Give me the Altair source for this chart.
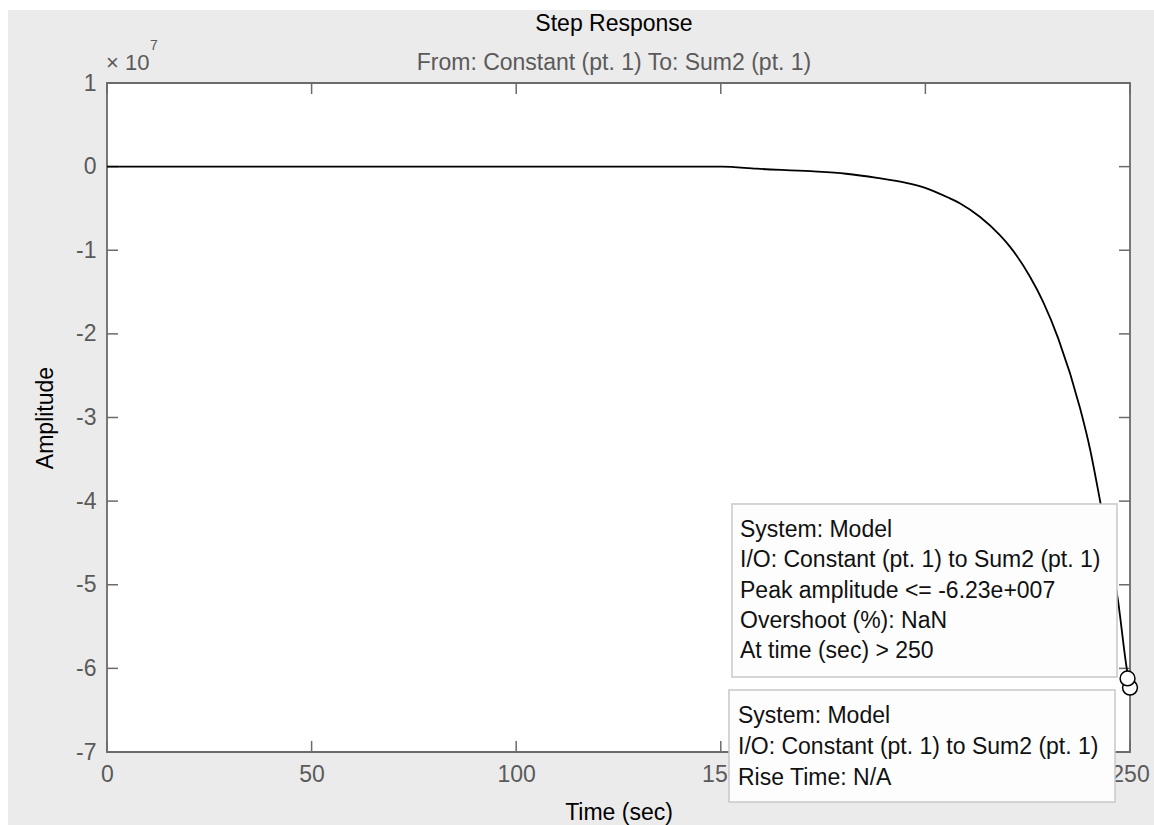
import altair as alt
import pandas as pd

# ---- data (amplitude in units of 1e7) ----
time_s = [0, 150.3, 158.8, 172.0, 180.6, 188.2, 195.3, 200.6, 206.0, 208.5, 213.3, 218.2,
          220.7, 225.6, 228.8, 232.5, 237.8, 240.2, 242.7, 247.1, 249.2, 250]
amplitude_e7 = [0, 0, -0.025, -0.055, -0.085, -0.135, -0.195, -0.265, -0.38, -0.44, -0.60, -0.82,
                -0.96, -1.32, -1.62, -2.06, -2.89, -3.37, -4.0, -5.2, -6.0, -6.23]

marker_t = [250, 249.4]
marker_a = [-6.23, -6.12]

x_ticks = [0, 50, 100, 150, 200, 250]
y_ticks = [-7, -6, -5, -4, -3, -2, -1, 0, 1]

title_text = "Step Response"
subtitle_text = "From: Constant (pt. 1)  To: Sum2 (pt. 1)"
tip1_lines = ["System: Model", "I/O: Constant (pt. 1) to Sum2 (pt. 1)",
              "Peak amplitude <= -6.23e+007", "Overshoot (%): NaN", "At time (sec) > 250"]
tip2_lines = ["System: Model", "I/O: Constant (pt. 1) to Sum2 (pt. 1)", "Rise Time: N/A"]

# ---- styling ----
W, H = 1023, 669
FONT = "Liberation Sans"
AX = "#6b6b6b"
LBL = "#5a5a5a"
BG = "#EBEBEB"
TK = 11

xscale = alt.Scale(domain=[0, 250], nice=False, zero=False)
yscale = alt.Scale(domain=[-7, 1], nice=False, zero=False)

x_axis = alt.Axis(values=x_ticks, title="Time (sec)", ticks=False, tickSize=0, domain=False,
                  grid=False, labelPadding=11, labelFontSize=23, labelColor=LBL,
                  labelExpr="'' + datum.value",
                  titleFontSize=23, titleFontWeight="normal", titleColor="black",
                  titlePadding=15, labelFlush=False)
y_axis = alt.Axis(values=y_ticks, title="Amplitude", ticks=False, tickSize=0, domain=False,
                  grid=False, labelPadding=11, labelFontSize=23, labelColor=LBL,
                  labelExpr="'' + datum.value",
                  titleFontSize=23, titleFontWeight="normal", titleColor="black",
                  titlePadding=18, labelFlush=False)

one = pd.DataFrame({"k": [0]})
curve = pd.DataFrame({"t": time_s, "a": amplitude_e7})
xt = pd.DataFrame({"t": x_ticks})
yt = pd.DataFrame({"a": y_ticks})
markers = pd.DataFrame({"t": marker_t, "a": marker_a})

X = lambda: alt.X("t:Q", scale=xscale, axis=x_axis)
Y = lambda: alt.Y("a:Q", scale=yscale, axis=y_axis)

layers = []

# white strips outside the grey figure area
layers.append(alt.Chart(one).mark_rect(color="white").encode(
    x=alt.value(-107), x2=alt.value(-99), y=alt.value(-83), y2=alt.value(742)))
layers.append(alt.Chart(one).mark_rect(color="white").encode(
    x=alt.value(-107), x2=alt.value(1047), y=alt.value(-83), y2=alt.value(-73)))

# white plot area with grey frame
layers.append(alt.Chart(one).mark_rect(fill="white", stroke=AX, strokeWidth=1.8).encode(
    x=alt.value(0), x2=alt.value(W), y=alt.value(0), y2=alt.value(H)))

# tick marks (inward, on all four sides)
layers.append(alt.Chart(xt).mark_rule(color=AX, strokeWidth=1.5).encode(
    x=X(), y=alt.value(H), y2=alt.value(H - TK)))
layers.append(alt.Chart(xt).mark_rule(color=AX, strokeWidth=1.5).encode(
    x=X(), y=alt.value(0), y2=alt.value(TK)))
layers.append(alt.Chart(yt).mark_rule(color=AX, strokeWidth=1.5).encode(
    y=Y(), x=alt.value(0), x2=alt.value(TK)))
layers.append(alt.Chart(yt).mark_rule(color=AX, strokeWidth=1.5).encode(
    y=Y(), x=alt.value(W - TK), x2=alt.value(W)))

# step response curve
layers.append(alt.Chart(curve).mark_line(color="black", strokeWidth=1.8,
                                         interpolate="monotone").encode(
    x=X(), y=Y(), order="t:Q"))

# data-tip markers
layers.append(alt.Chart(markers).mark_point(shape="circle", size=220, fill="white",
                                            stroke="black", strokeWidth=1.5, opacity=1,
                                            fillOpacity=1).encode(x=X(), y=Y()))

# data-tip boxes
layers.append(alt.Chart(one).mark_rect(fill="#FDFDFD", stroke="#C8C8C8", strokeWidth=1.5).encode(
    x=alt.value(625), x2=alt.value(1010), y=alt.value(421), y2=alt.value(594)))
layers.append(alt.Chart(one).mark_rect(fill="#FDFDFD", stroke="#C8C8C8", strokeWidth=1.5).encode(
    x=alt.value(622), x2=alt.value(1008), y=alt.value(607), y2=alt.value(719)))

for i, line in enumerate(tip1_lines):
    layers.append(alt.Chart(one).mark_text(align="left", baseline="alphabetic", fontSize=23,
                                           font=FONT, color="#111111").encode(
        x=alt.value(633), y=alt.value(454 + 30.3 * i), text=alt.value(line)))
for i, line in enumerate(tip2_lines):
    layers.append(alt.Chart(one).mark_text(align="left", baseline="alphabetic", fontSize=23,
                                           font=FONT, color="#111111").encode(
        x=alt.value(631), y=alt.value(640 + 31 * i), text=alt.value(line)))

# titles
layers.append(alt.Chart(one).mark_text(align="center", baseline="alphabetic", fontSize=23,
                                       font=FONT, color="black").encode(
    x=alt.value(507), y=alt.value(-52), text=alt.value(title_text)))
layers.append(alt.Chart(one).mark_text(align="center", baseline="alphabetic", fontSize=23,
                                       font=FONT, color=LBL).encode(
    x=alt.value(507), y=alt.value(-13), text=alt.value(subtitle_text)))
# exponent label
layers.append(alt.Chart(one).mark_text(align="left", baseline="alphabetic", fontSize=22,
                                       font=FONT, color=LBL).encode(
    x=alt.value(-1), y=alt.value(-13), text=alt.value("\u00d7 10")))
layers.append(alt.Chart(one).mark_text(align="left", baseline="alphabetic", fontSize=14,
                                       font=FONT, color=LBL).encode(
    x=alt.value(43), y=alt.value(-33), text=alt.value("7")))

chart = alt.layer(*layers).properties(
    width=W, height=H,
    autosize=alt.AutoSizeParams(type="none"),
    padding={"left": 107, "top": 83, "right": 24, "bottom": 73},
    background=BG,
).configure_view(
    stroke=None
).configure(font=FONT)

chart.save("out.html", embed_options={"renderer": "svg", "actions": False})
